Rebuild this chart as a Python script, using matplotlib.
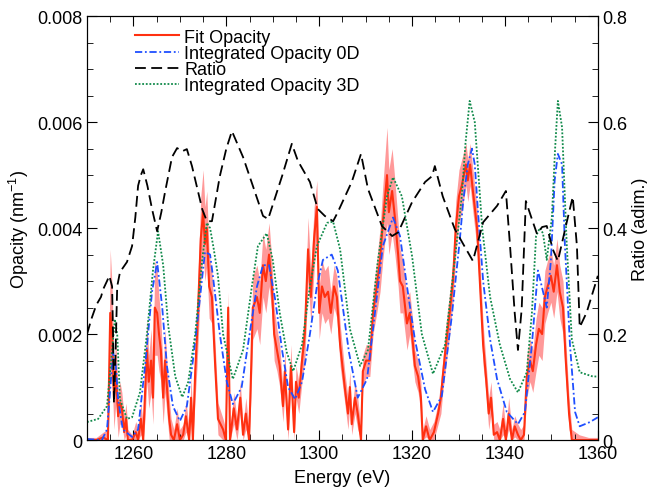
import numpy as np
import matplotlib
matplotlib.use("Agg")
import matplotlib.pyplot as plt
from matplotlib.ticker import MultipleLocator, FuncFormatter

plt.rcParams['font.family'] = ['Liberation Sans', 'DejaVu Sans']
plt.rcParams['font.size'] = 13
plt.rcParams['mathtext.default'] = 'regular'

# --- fitted opacity (values in 1e-3 nm^-1) ---
fit_e = [
    1250.0, 1252.0, 1253.5, 1254.5, 1255.0, 1255.4, 1255.8, 1256.2, 1256.7, 1257.1,
    1257.5, 1258.0, 1258.4, 1258.8, 1259.7, 1260.5, 1261.0, 1261.6, 1262.1, 1262.5,
    1262.9, 1263.3, 1263.8, 1264.2, 1264.6, 1265.1, 1265.5, 1265.9, 1266.4, 1266.8,
    1267.2, 1267.7, 1268.1, 1268.7, 1269.4, 1270.0, 1270.7, 1271.3, 1272.0, 1272.4,
    1272.8, 1273.3, 1273.7, 1274.1, 1274.5, 1275.0, 1275.4, 1275.8, 1276.3, 1276.9,
    1277.6, 1278.2, 1279.3, 1279.9, 1280.4, 1280.8, 1281.6, 1282.3, 1283.0, 1283.6,
    1284.2, 1284.9, 1285.3, 1285.7, 1286.6, 1287.2, 1287.9, 1288.5, 1289.2, 1289.8,
    1290.3, 1290.9, 1291.5, 1292.2, 1292.6, 1293.3, 1293.9, 1294.6, 1295.0, 1295.6,
    1296.3, 1296.9, 1297.6, 1298.2, 1298.9, 1299.5, 1300.0, 1300.6, 1301.2, 1301.9,
    1302.5, 1303.2, 1303.8, 1304.5, 1305.5, 1306.2, 1306.6, 1307.0, 1307.7, 1308.3,
    1309.0, 1309.4, 1310.1, 1310.9, 1311.6, 1312.4, 1313.1, 1313.7, 1314.6, 1315.0,
    1315.7, 1316.3, 1317.0, 1317.4, 1318.0, 1318.9, 1319.5, 1320.2, 1320.6, 1321.3,
    1321.9, 1322.3, 1323.0, 1323.8, 1324.7, 1325.6, 1326.2, 1326.6, 1327.3, 1328.1,
    1328.8, 1329.4, 1330.1, 1330.7, 1331.6, 1332.0, 1332.5, 1333.1, 1334.0, 1334.6,
    1335.3, 1335.9, 1336.5, 1337.0, 1337.6, 1338.3, 1338.9, 1339.6, 1340.2, 1340.8,
    1341.5, 1342.1, 1342.8, 1343.4, 1344.1, 1344.7, 1345.4, 1346.0, 1346.7, 1347.3,
    1348.0, 1348.6, 1349.2, 1349.9, 1350.5, 1351.2, 1351.8, 1352.5, 1353.1, 1353.8,
    1354.4, 1356.0, 1358.0, 1360.0]
fit_v = [
    0, 0, 0.05, 0, 2.4, 2.0, 0.8, 1.3, 0.45, 0.7,
    0.6, 0.15, 0.4, 0, 0, 0.15, 0, 0.4, 0, 0.9,
    1.7, 1.1, 1.5, 0.8, 2.5, 2.4, 2.0, 1.7, 0.8, 1.5,
    1.0, 0.4, 0.1, 0, 0.3, 0, 0.1, 0.45, 0, 0.8,
    0, 1.3, 2.0, 2.9, 3.8, 4.3, 3.7, 4.0, 2.9, 2.7,
    1.4, 0.4, 0.2, 0, 2.5, 0, 0.6, 0.2, 0.8, 0.1,
    0.5, 0, 1.2, 2.5, 2.7, 2.4, 3.3, 3.0, 3.5, 2.9,
    2.0, 1.7, 1.4, 0.64, 1.3, 0.2, 1.4, 0.15, 1.1, 0.8,
    1.5, 2.0, 3.6, 2.7, 3.8, 4.4, 2.4, 2.9, 2.7, 2.8,
    2.4, 2.9, 2.7, 1.8, 1.0, 0.5, 1.0, 0.3, 0.8, 0.5,
    0, 1.3, 1.5, 1.5, 2.4, 2.9, 3.4, 4.1, 5.0, 4.3,
    4.7, 4.2, 3.5, 3.0, 2.9, 2.2, 2.4, 1.8, 1.4, 1.2,
    0.8, 0, 0.26, 0, 0.15, 0.5, 0.8, 1.2, 1.8, 2.4,
    3.0, 4.0, 4.6, 4.8, 5.2, 4.9, 5.2, 4.7, 4.0, 3.0,
    1.8, 1.2, 0.5, 0.8, 0.1, 0.15, 0, 0.4, 0, 0.5,
    0, 0.26, 0.1, 0, 0.1, 1.2, 1.5, 1.3, 1.8, 2.1,
    2.0, 2.7, 2.9, 3.1, 2.8, 3.3, 2.8, 2.5, 1.5, 0.5,
    0, 0, 0, 0]
fit_err = [
    0.05, 0.05, 0.1, 0.2, 1.2, 0.9, 0.6, 0.6, 0.4, 0.4,
    0.3, 0.3, 0.3, 0.2, 0.1, 0.2, 0.2, 0.3, 0.3, 0.5,
    0.6, 0.5, 0.6, 0.5, 0.9, 0.8, 0.7, 0.6, 0.5, 0.6,
    0.5, 0.4, 0.3, 0.2, 0.3, 0.2, 0.2, 0.3, 0.2, 0.4,
    0.3, 0.5, 0.6, 0.7, 0.8, 0.8, 0.7, 0.7, 0.6, 0.5,
    0.4, 0.3, 0.2, 0.2, 0.3, 0.2, 0.3, 0.2, 0.3, 0.2,
    0.3, 0.2, 0.4, 0.6, 0.6, 0.6, 0.6, 0.6, 0.6, 0.5,
    0.5, 0.4, 0.4, 0.3, 0.4, 0.2, 0.4, 0.2, 0.3, 0.3,
    0.4, 0.5, 0.6, 0.5, 0.6, 0.5, 0.5, 0.5, 0.5, 0.5,
    0.4, 0.4, 0.4, 0.4, 0.3, 0.3, 0.3, 0.2, 0.3, 0.3,
    0.2, 0.3, 0.3, 0.3, 0.4, 0.5, 0.6, 0.7, 0.9, 0.8,
    0.8, 0.7, 0.6, 0.6, 0.5, 0.5, 0.4, 0.4, 0.3, 0.3,
    0.3, 0.2, 0.2, 0.2, 0.2, 0.2, 0.3, 0.3, 0.4, 0.4,
    0.4, 0.5, 0.5, 0.5, 0.4, 0.4, 0.4, 0.4, 0.4, 0.4,
    0.4, 0.3, 0.3, 0.3, 0.2, 0.2, 0.2, 0.3, 0.2, 0.3,
    0.2, 0.2, 0.2, 0.2, 0.2, 0.4, 0.4, 0.4, 0.5, 0.5,
    0.5, 0.5, 0.5, 0.5, 0.5, 0.5, 0.5, 0.5, 0.4, 0.3,
    0.2, 0.1, 0.05, 0.05]

# --- integrated opacity 0D (1e-3 nm^-1) ---
od_e = [1250.0, 1253.2, 1254.3, 1255.0, 1255.6, 1256.2, 1256.7, 1257.7, 1259.7, 1261.0,
        1262.5, 1264.0, 1265.1, 1266.2, 1267.2, 1268.5, 1270.0, 1271.5, 1272.8, 1274.3,
        1275.4, 1276.5, 1277.1, 1278.6, 1280.1, 1281.4, 1283.3, 1285.0, 1286.6, 1287.9,
        1289.2, 1290.5, 1292.0, 1293.3, 1294.8, 1296.3, 1298.0, 1299.5, 1300.8, 1302.7,
        1304.0, 1305.1, 1306.4, 1308.3, 1310.3, 1312.0, 1313.7, 1315.9, 1317.4, 1318.9,
        1320.6, 1322.8, 1324.5, 1326.4, 1328.5, 1330.3, 1331.0, 1332.0, 1332.9, 1333.5,
        1334.2, 1335.3, 1336.8, 1338.3, 1340.4, 1342.8, 1344.3, 1345.8, 1347.1, 1348.2,
        1349.0, 1349.9, 1350.7, 1351.4, 1352.3, 1352.9, 1354.0, 1355.1, 1356.1, 1358.3,
        1360.0]
od_v = [0.02, 0.0, 0.2, 0.96, 1.66, 1.4, 0.77, 0.2, 0.06, 0.2,
        1.4, 2.8, 3.36, 2.5, 1.4, 0.64, 0.36, 0.64, 1.5, 2.66,
        3.55, 3.5, 3.1, 2.0, 1.1, 0.68, 1.0, 2.0, 2.9, 3.3,
        3.3, 2.66, 1.7, 1.0, 0.77, 1.1, 2.0, 2.9, 3.4, 3.5,
        3.2, 2.5, 1.66, 0.8, 1.15, 2.4, 3.66, 4.2, 3.85, 2.9,
        1.9, 0.96, 0.53, 0.83, 2.3, 3.8, 4.5, 5.2, 5.5, 5.2,
        4.3, 3.0, 1.9, 1.15, 0.53, 0.3, 0.53, 1.8, 3.2, 2.8,
        2.5, 3.4, 4.9, 5.4, 5.2, 3.7, 1.8, 0.53, 0.26, 0.34,
        0.43]

# --- integrated opacity 3D (1e-3 nm^-1) ---
td_e = [1250.0, 1252.4, 1254.3, 1255.4, 1256.0, 1256.5, 1257.1, 1258.6, 1259.7, 1261.4,
        1262.9, 1264.2, 1265.3, 1266.4, 1267.5, 1269.0, 1270.5, 1271.8, 1273.3, 1274.8,
        1275.8, 1276.5, 1277.3, 1278.2, 1279.3, 1281.4, 1283.6, 1285.5, 1286.8, 1288.7,
        1290.0, 1291.5, 1293.0, 1294.4, 1296.3, 1298.0, 1299.5, 1301.7, 1303.0, 1304.5,
        1306.6, 1308.8, 1310.5, 1312.6, 1314.6, 1315.9, 1317.8, 1320.0, 1322.1, 1324.5,
        1327.1, 1329.2, 1330.7, 1331.5, 1332.4, 1333.5, 1335.1, 1336.8, 1338.9, 1341.1,
        1342.8, 1344.7, 1345.8, 1346.7, 1347.5, 1348.2, 1349.0, 1350.1, 1350.8, 1351.4,
        1352.3, 1353.3, 1354.4, 1356.1, 1358.9, 1360.0]
td_v = [0.34, 0.4, 0.64, 1.7, 2.28, 2.0, 0.77, 0.4, 0.43, 0.9,
        2.0, 3.2, 3.94, 3.3, 2.15, 1.2, 0.81, 1.1, 2.0, 3.4,
        4.1, 4.0, 3.6, 3.1, 2.0, 1.15, 1.7, 2.9, 3.66, 3.9,
        3.4, 2.4, 1.66, 1.3, 1.8, 2.9, 3.66, 4.1, 4.12, 3.6,
        2.1, 1.4, 1.7, 3.36, 4.6, 4.96, 4.6, 3.47, 2.0, 1.25,
        1.8, 3.4, 4.6, 5.6, 6.4, 6.0, 4.0, 2.7, 1.8, 1.15,
        0.9, 1.28, 2.4, 3.85, 4.0, 3.9, 3.4, 4.2, 5.5, 6.4,
        5.9, 3.7, 1.9, 1.28, 1.2, 1.2]

# --- ratio (right axis) ---
ratio_e = [1250.0, 1251.0, 1252.0, 1253.0, 1253.5, 1254.3, 1254.8, 1255.4, 1255.6, 1255.8,
           1256.1, 1256.5, 1257.1, 1258.6, 1259.7, 1260.4, 1261.0, 1261.6, 1262.1, 1263.0,
           1264.0, 1265.1, 1266.0, 1266.8, 1268.3, 1269.4, 1270.5, 1271.5, 1272.6, 1274.8,
           1275.8, 1276.9, 1278.6, 1280.0, 1281.2, 1283.6, 1285.7, 1287.9, 1289.0, 1292.0,
           1294.1, 1295.4, 1298.0, 1299.7, 1301.2, 1303.0, 1304.0, 1305.1, 1307.0, 1309.0,
           1310.5, 1313.5, 1315.7, 1317.0, 1320.0, 1322.8, 1324.3, 1324.9, 1326.6, 1329.2,
           1331.0, 1333.1, 1335.3, 1338.3, 1340.2, 1341.1, 1342.1, 1342.8, 1343.6, 1344.5,
           1345.8, 1346.9, 1348.0, 1349.0, 1350.3, 1351.4, 1353.3, 1354.6, 1355.5, 1356.1,
           1357.6, 1359.8, 1360.0]
ratio_v = [0.20, 0.23, 0.255, 0.27, 0.285, 0.30, 0.31, 0.29, 0.20, 0.07,
           0.15, 0.29, 0.317, 0.336, 0.366, 0.42, 0.48, 0.50, 0.511, 0.48,
           0.436, 0.394, 0.43, 0.468, 0.534, 0.551, 0.545, 0.549, 0.517, 0.436,
           0.413, 0.413, 0.498, 0.55, 0.583, 0.534, 0.48, 0.423, 0.417, 0.498,
           0.559, 0.527, 0.487, 0.436, 0.423, 0.413, 0.43, 0.451, 0.487, 0.54,
           0.474, 0.404, 0.385, 0.392, 0.449, 0.487, 0.498, 0.517, 0.46, 0.398,
           0.37, 0.338, 0.411, 0.442, 0.47, 0.366, 0.24, 0.17, 0.247, 0.451,
           0.417, 0.389, 0.402, 0.404, 0.36, 0.338, 0.411, 0.459, 0.366, 0.213,
           0.241, 0.304, 0.31]

fit = np.array(fit_v) * 1e-3
err = np.array(fit_err) * 1e-3

fig = plt.figure(figsize=(6.47, 4.89), dpi=100)
ax = fig.add_axes([0.1345, 0.098, 0.7895, 0.867])
ax2 = ax.twinx()

ax.fill_between(fit_e, np.clip(fit - err, 0, None), fit + err,
                color='#ff8080', alpha=0.8, lw=0)
l1, = ax.plot(fit_e, fit, color='#ff3010', lw=1.5, label='Fit Opacity')
l2, = ax.plot(od_e, np.array(od_v) * 1e-3, color='#1f4fff', lw=1.3,
              ls=(0, (4, 1.5, 1, 1.5)), label='Integrated Opacity 0D')
l4, = ax.plot(td_e, np.array(td_v) * 1e-3, color='#108a4a', lw=1.3,
              ls=(0, (1, 1)), label='Integrated Opacity 3D')
l3, = ax2.plot(ratio_e, ratio_v, color='black', lw=1.3,
               ls=(0, (6, 3)), label='Ratio')

ax.set_xlim(1250, 1360)
ax.set_ylim(0, 0.008)
ax2.set_ylim(0, 0.8)

ax.xaxis.set_major_locator(MultipleLocator(20))
ax.xaxis.set_minor_locator(MultipleLocator(5))
ax.yaxis.set_major_locator(MultipleLocator(0.002))
ax.yaxis.set_minor_locator(MultipleLocator(0.0005))
ax2.yaxis.set_major_locator(MultipleLocator(0.2))
ax2.yaxis.set_minor_locator(MultipleLocator(0.05))
ax.yaxis.set_major_formatter(FuncFormatter(lambda v, p: '0' if v == 0 else '%.3f' % v))
ax2.yaxis.set_major_formatter(FuncFormatter(lambda v, p: '0' if v == 0 else '%.1f' % v))

ax.tick_params(which='both', direction='in', top=True, labelsize=13)
ax.tick_params(which='major', length=7)
ax.tick_params(which='minor', length=4)
ax2.tick_params(which='both', direction='in', labelsize=13)
ax2.tick_params(which='major', length=7)
ax2.tick_params(which='minor', length=4)

ax.set_xlabel('Energy (eV)', fontsize=13, labelpad=5)
ax.set_ylabel('Opacity (nm$^{-1}$)', fontsize=13, labelpad=4)
ax2.set_ylabel('Ratio (adim.)', fontsize=13, labelpad=3)

ax.legend(handles=[l1, l2, l3, l4], loc='upper left', bbox_to_anchor=(0.07, 1.0),
          frameon=False, fontsize=13, handlelength=2.4, handletextpad=0.3,
          labelspacing=-0.05, borderaxespad=0.3)

fig.savefig('out.png', dpi=100)
